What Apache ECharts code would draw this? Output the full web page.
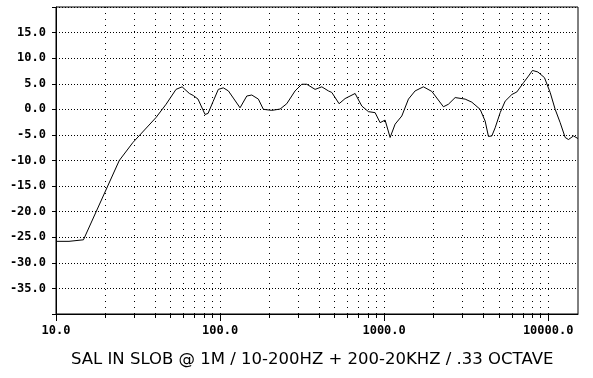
<!DOCTYPE html>
<html>
<head>
<meta charset="utf-8">
<script src="https://cdn.jsdelivr.net/npm/echarts@6/dist/echarts.min.js"></script>
<style>
  html, body { margin: 0; padding: 0; background: #fff; }
  #chart { width: 593px; height: 378px; }
</style>
</head>
<body>
<div id="chart"></div>
<script>
// response: frequency (Hz) and level (dB)
var freqHz = [10, 12, 14.7, 24.3, 29.4, 40.7, 46.9, 53.9, 58.7, 65, 68.7, 73.4, 81, 84.5, 90.6, 97.6,
  104.7, 112.4, 120.5, 132.4, 145.5, 156.1, 171.2, 183.7, 206.7, 232.2, 255, 286.6, 314.9, 337.9,
  379.6, 417.1, 457.5, 479.8, 531.7, 578.3, 665.6, 731.1, 802.2, 881.4, 945.4, 1014, 1088, 1167,
  1282, 1407, 1545, 1736, 1954, 2299, 2467, 2710, 3118, 3425, 3849, 4129, 4325, 4536, 4752, 5098,
  5468, 6008, 6445, 7069, 7585, 8023, 8653, 9494, 10285, 11031, 11834, 12694, 13298, 14264, 15176];
var levelDb = [-25.8, -25.8, -25.5, -10.0, -6.5, -1.6, 1.0, 3.9, 4.4, 3.1, 2.7, 2.0, -1.0, -0.8, 1.5, 3.9,
  4.2, 3.6, 2.2, 0.3, 2.6, 2.8, 2.0, 0.0, -0.2, 0.05, 1.1, 3.6, 4.9, 4.9,
  3.9, 4.4, 3.6, 3.3, 1.1, 2.1, 3.1, 0.65, -0.45, -0.65, -2.6, -2.1, -5.5, -2.9,
  -1.3, 2.0, 3.6, 4.4, 3.5, 0.5, 1.0, 2.3, 2.0, 1.4, 0.0, -2.3, -5.3, -5.2, -3.6, -0.65,
  1.6, 2.9, 3.4, 5.2, 6.5, 7.6, 7.3, 6.2, 3.3, 0.0, -2.6, -5.5, -5.9, -5.2, -5.7];

var majorFreqs = [10, 100, 1000, 10000];
var minorFreqs = [20, 30, 40, 50, 60, 70, 80, 90,
  200, 300, 400, 500, 600, 700, 800, 900,
  2000, 3000, 4000, 5000, 6000, 7000, 8000, 9000];
var titleText = 'SAL IN SLOB @ 1M / 10-200HZ + 200-20KHZ / .33 OCTAVE';

var points = [];
for (var i = 0; i < freqHz.length; i++) points.push([freqHz[i], levelDb[i]]);

var myChart = echarts.init(document.getElementById('chart'), null, { renderer: 'canvas' });
var tickFont = { color: '#000', fontFamily: 'DejaVu Sans Mono', fontWeight: 'bold', fontSize: 12 };

var option = {
  animation: false,
  backgroundColor: '#fff',
  title: {
    text: titleText,
    left: 66, top: 346,
    textStyle: { color: '#000', fontFamily: 'DejaVu Sans', fontWeight: 'normal', fontSize: 16.5 }
  },
  grid: {
    left: 56, right: 15, top: 7, bottom: 64,
    show: true, borderColor: '#000', borderWidth: 1,
    containLabel: false, outerBoundsMode: 'none'
  },
  xAxis: [
    {
      type: 'log', logBase: 10, min: 10, max: 15200,
      axisLine: { show: true, onZero: false, lineStyle: { color: '#000', width: 1 } },
      axisTick: { show: true, customValues: majorFreqs, length: 7, lineStyle: { color: '#000' } },
      axisLabel: Object.assign({ customValues: majorFreqs, margin: 11,
        formatter: function (v) { return Number(v).toFixed(1); } }, tickFont),
      splitLine: { show: true, lineStyle: { color: '#000', type: [1, 5] } }
    },
    {
      type: 'log', logBase: 10, min: 10, max: 15200, position: 'bottom',
      axisLine: { show: false, onZero: false },
      axisTick: { show: true, customValues: minorFreqs, length: 4, lineStyle: { color: '#000' } },
      axisLabel: { show: false },
      splitLine: { show: true, lineStyle: { color: '#000', type: [1, 5] } }
    }
  ],
  yAxis: {
    type: 'value', min: -40, max: 20, interval: 5,
    axisLine: { show: true, onZero: false, lineStyle: { color: '#000', width: 1 } },
    axisTick: { show: true, length: 4, lineStyle: { color: '#000' } },
    axisLabel: Object.assign({ margin: 10,
      formatter: function (v) { return (v <= -40 || v >= 20) ? '' : v.toFixed(1); } }, tickFont),
    splitLine: { show: true, lineStyle: { color: '#000', type: [1, 2] } }
  },
  series: [{
    type: 'line',
    xAxisIndex: 0,
    data: points,
    showSymbol: false,
    smooth: false,
    lineStyle: { color: '#000', width: 1 }
  }]
};

myChart.setOption(option);
</script>
</body>
</html>
